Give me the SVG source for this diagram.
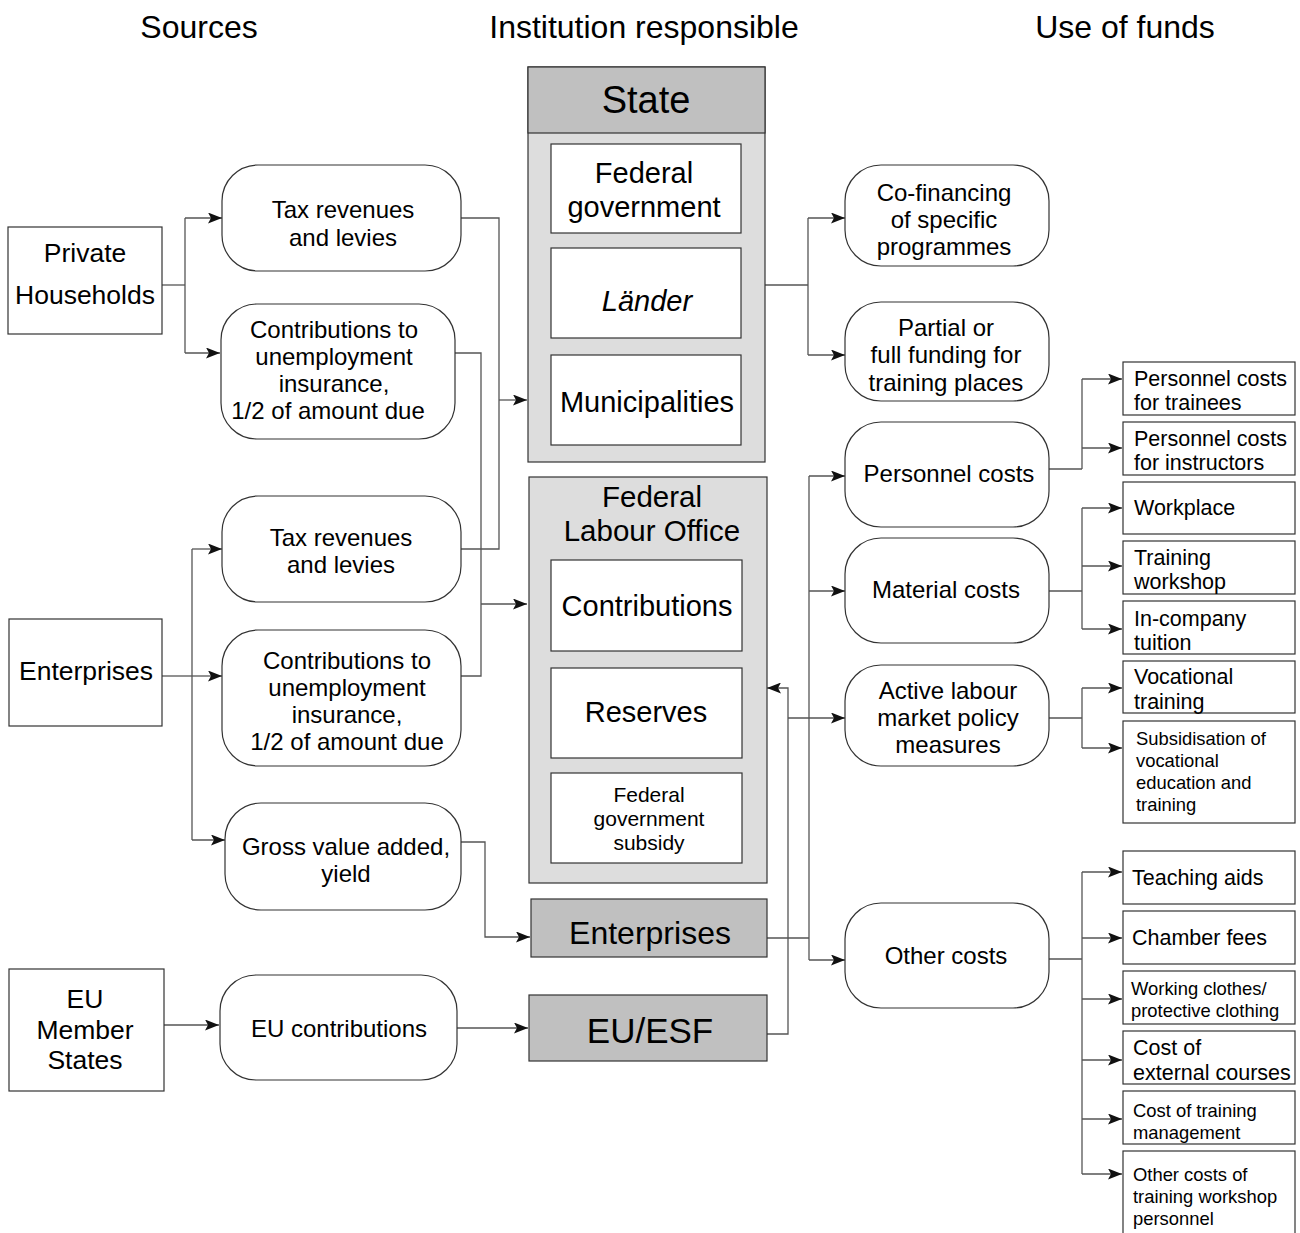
<svg xmlns="http://www.w3.org/2000/svg" width="1300" height="1233" viewBox="0 0 1300 1233">
<style>
text{font-family:"Liberation Sans",Arial,sans-serif;fill:#000;text-anchor:middle}
.t{font-size:32px}
.n{font-size:24px}
.L{font-size:26.5px}
.m{font-size:29px}
.s{font-size:21.5px;text-anchor:start}
.xs{font-size:18.4px;text-anchor:start}
.rn{fill:#fff;stroke:#333;stroke-width:1.2}
.bx{fill:#fff;stroke:#333;stroke-width:1.2}
.dk{fill:#c0c0c0;stroke:#333;stroke-width:1.2}
.lt{fill:#dddddd;stroke:#333;stroke-width:1.2}
.c path{fill:none;stroke:#555;stroke-width:1.3}
.c path.a{marker-end:url(#ar)}
</style>
<defs>
<marker id="ar" markerUnits="userSpaceOnUse" markerWidth="15" markerHeight="11" refX="14" refY="5.5" orient="auto">
<path d="M0,0 L14,5.5 L0,11 L3,5.5 Z" fill="#111"/>
</marker>
</defs>
<rect width="1300" height="1233" fill="#fff"/>
<g id="titles">
<text class="t" x="199" y="38">Sources</text>
<text class="t" x="644" y="38">Institution responsible</text>
<text class="t" x="1125" y="38">Use of funds</text>
</g>
<g class="c" id="connectors">
<path d="M162,285 H185"/>
<path d="M185,218 V353"/>
<path class="a" d="M185,218 H222"/>
<path class="a" d="M185,353 H220"/>
<path d="M461,218 H499 V549 H461"/>
<path class="a" d="M499,400 H527"/>
<path d="M455,353 H481 V676 H461"/>
<path class="a" d="M481,604 H527"/>
<path d="M162,676 H192"/>
<path d="M192,549 V840"/>
<path class="a" d="M192,549 H222"/>
<path class="a" d="M192,676 H222"/>
<path class="a" d="M192,840 H225"/>
<path class="a" d="M461,842 H485 V937 H530"/>
<path class="a" d="M164,1025 H219"/>
<path class="a" d="M457,1028 H528"/>
<path d="M765,285 H808"/>
<path d="M808,218 V355"/>
<path class="a" d="M808,218 H845"/>
<path class="a" d="M808,355 H845"/>
<path d="M767,938 H809"/>
<path d="M809,476 V960"/>
<path class="a" d="M809,476 H845"/>
<path class="a" d="M809,591 H845"/>
<path class="a" d="M809,960 H845"/>
<path class="a" d="M767,1034 H788 V688 H767"/>
<path class="a" d="M788,718 H845"/>
<path d="M1049,469 H1082"/>
<path d="M1082,379 V469"/>
<path class="a" d="M1082,379 H1122"/>
<path class="a" d="M1082,448 H1122"/>
<path d="M1049,591 H1082"/>
<path d="M1082,508 V629"/>
<path class="a" d="M1082,508 H1122"/>
<path class="a" d="M1082,566 H1122"/>
<path class="a" d="M1082,629 H1122"/>
<path d="M1049,718 H1082"/>
<path d="M1082,688 V748"/>
<path class="a" d="M1082,688 H1122"/>
<path class="a" d="M1082,748 H1122"/>
<path d="M1049,959 H1082"/>
<path d="M1082,872 V1174"/>
<path class="a" d="M1082,872 H1122"/>
<path class="a" d="M1082,938 H1122"/>
<path class="a" d="M1082,999 H1122"/>
<path class="a" d="M1082,1060 H1122"/>
<path class="a" d="M1082,1119 H1122"/>
<path class="a" d="M1082,1174 H1122"/>
</g>
<g id="private-households"><rect class="bx" x="8" y="227" width="154" height="107"/><text class="L" x="85" y="262">Private</text><text class="L" x="85" y="304">Households</text></g>
<g id="enterprises-src"><rect class="bx" x="9" y="619" width="153" height="107"/><text class="L" x="86" y="680">Enterprises</text></g>
<g id="eu-member-states"><rect class="bx" x="9" y="969" width="155" height="122"/><text class="L" x="85" y="1008">EU</text><text class="L" x="85" y="1039">Member</text><text class="L" x="85" y="1069">States</text></g>
<g id="tax1"><rect class="rn" x="222" y="165" width="239" height="106" rx="36"/><text class="n" x="343" y="218">Tax revenues</text><text class="n" x="343" y="246">and levies</text></g>
<g id="contrib1"><rect class="rn" x="221" y="304" width="234" height="135" rx="36"/><text class="n" x="334" y="338">Contributions to</text><text class="n" x="334" y="365">unemployment</text><text class="n" x="334" y="392">insurance,</text><text class="n" x="328" y="419">1/2 of amount due</text></g>
<g id="tax2"><rect class="rn" x="222" y="496" width="239" height="106" rx="36"/><text class="n" x="341" y="546">Tax revenues</text><text class="n" x="341" y="573">and levies</text></g>
<g id="contrib2"><rect class="rn" x="222" y="630" width="239" height="136" rx="36"/><text class="n" x="347" y="669">Contributions to</text><text class="n" x="347" y="696">unemployment</text><text class="n" x="347" y="723">insurance,</text><text class="n" x="347" y="750">1/2 of amount due</text></g>
<g id="gross"><rect class="rn" x="225" y="803" width="236" height="107" rx="36"/><text class="n" x="346" y="855">Gross value added,</text><text class="n" x="346" y="882">yield</text></g>
<g id="eu-contrib"><rect class="rn" x="220" y="975" width="237" height="105" rx="36"/><text class="n" x="339" y="1037">EU contributions</text></g>
<g id="state"><rect class="lt" x="528" y="67" width="237" height="395"/><rect class="dk" x="528" y="67" width="237" height="66"/><text x="646" y="113" font-size="38">State</text></g>
<g id="federal-government"><rect class="bx" x="551" y="144" width="190" height="89"/><text class="m" x="644" y="183">Federal</text><text class="m" x="644" y="217">government</text></g>
<g id="laender"><rect class="bx" x="551" y="248" width="190" height="90"/><text class="m" x="647" y="311" font-style="italic">Länder</text></g>
<g id="municipalities"><rect class="bx" x="551" y="355" width="190" height="90"/><text class="m" x="647" y="412">Municipalities</text></g>
<g id="flo"><rect class="lt" x="529" y="477" width="238" height="406"/><text x="652" y="507" font-size="29.5">Federal</text><text x="652" y="541" font-size="29.5">Labour Office</text></g>
<g id="contributions"><rect class="bx" x="551" y="560" width="191" height="91"/><text class="m" x="647" y="616">Contributions</text></g>
<g id="reserves"><rect class="bx" x="551" y="668" width="191" height="90"/><text class="m" x="646" y="722">Reserves</text></g>
<g id="fed-subsidy"><rect class="bx" x="551" y="773" width="191" height="90"/><text x="649" y="802" font-size="21">Federal</text><text x="649" y="826" font-size="21">government</text><text x="649" y="850" font-size="21">subsidy</text></g>
<g id="enterprises-inst"><rect class="dk" x="531" y="899" width="236" height="58"/><text x="650" y="944" font-size="32">Enterprises</text></g>
<g id="eu-esf"><rect class="dk" x="529" y="995" width="238" height="66"/><text x="650" y="1043" font-size="35">EU/ESF</text></g>
<g id="cofinancing"><rect class="rn" x="845" y="165" width="204" height="101" rx="36"/><text class="n" x="944" y="201">Co-financing</text><text class="n" x="944" y="228">of specific</text><text class="n" x="944" y="255">programmes</text></g>
<g id="partial"><rect class="rn" x="845" y="302" width="204" height="99" rx="36"/><text class="n" x="946" y="336">Partial or</text><text class="n" x="946" y="363">full funding for</text><text class="n" x="946" y="391">training places</text></g>
<g id="personnel"><rect class="rn" x="845" y="422" width="204" height="105" rx="36"/><text class="n" x="949" y="482">Personnel costs</text></g>
<g id="material"><rect class="rn" x="845" y="538" width="204" height="105" rx="36"/><text class="n" x="946" y="598">Material costs</text></g>
<g id="active"><rect class="rn" x="845" y="665" width="204" height="101" rx="36"/><text class="n" x="948" y="699">Active labour</text><text class="n" x="948" y="726">market policy</text><text class="n" x="948" y="753">measures</text></g>
<g id="other"><rect class="rn" x="845" y="903" width="204" height="105" rx="36"/><text class="n" x="946" y="964">Other costs</text></g>
<g id="pc-trainees"><rect class="bx" x="1123" y="362" width="172" height="53"/><text class="s" x="1134" y="386">Personnel costs</text><text class="s" x="1134" y="410">for trainees</text></g>
<g id="pc-instructors"><rect class="bx" x="1123" y="422" width="172" height="53"/><text class="s" x="1134" y="446">Personnel costs</text><text class="s" x="1134" y="470">for instructors</text></g>
<g id="workplace"><rect class="bx" x="1123" y="482" width="172" height="52"/><text class="s" x="1134" y="515">Workplace</text></g>
<g id="training-workshop"><rect class="bx" x="1123" y="541" width="172" height="53"/><text class="s" x="1134" y="565">Training</text><text class="s" x="1134" y="589">workshop</text></g>
<g id="in-company"><rect class="bx" x="1123" y="601" width="172" height="53"/><text class="s" x="1134" y="626">In-company</text><text class="s" x="1134" y="650">tuition</text></g>
<g id="vocational"><rect class="bx" x="1123" y="661" width="172" height="52"/><text class="s" x="1134" y="684">Vocational</text><text class="s" x="1134" y="709">training</text></g>
<g id="subsidisation"><rect class="bx" x="1123" y="721" width="172" height="102"/><text class="xs" x="1136" y="745">Subsidisation of</text><text class="xs" x="1136" y="767">vocational</text><text class="xs" x="1136" y="789">education and</text><text class="xs" x="1136" y="811">training</text></g>
<g id="teaching-aids"><rect class="bx" x="1123" y="851" width="172" height="53"/><text class="s" x="1132" y="885">Teaching aids</text></g>
<g id="chamber-fees"><rect class="bx" x="1123" y="911" width="172" height="53"/><text class="s" x="1132" y="945">Chamber fees</text></g>
<g id="working-clothes"><rect class="bx" x="1123" y="971" width="172" height="53"/><text class="xs" x="1131" y="995">Working clothes/</text><text class="xs" x="1131" y="1017">protective clothing</text></g>
<g id="external-courses"><rect class="bx" x="1123" y="1031" width="172" height="53"/><text class="s" x="1133" y="1055">Cost of</text><text class="s" x="1133" y="1080">external courses</text></g>
<g id="training-mgmt"><rect class="bx" x="1123" y="1091" width="172" height="53"/><text class="xs" x="1133" y="1117">Cost of training</text><text class="xs" x="1133" y="1139">management</text></g>
<g id="other-workshop"><rect class="bx" x="1123" y="1151" width="172" height="95"/><text class="xs" x="1133" y="1181">Other costs of</text><text class="xs" x="1133" y="1203">training workshop</text><text class="xs" x="1133" y="1225">personnel</text></g>
</svg>
